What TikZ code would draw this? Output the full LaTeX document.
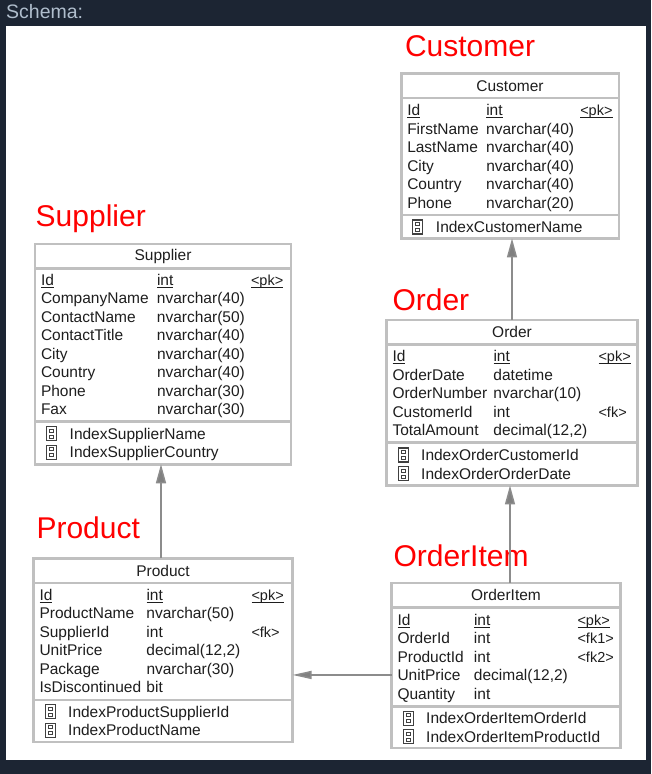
\documentclass[tikz,border=0pt]{standalone}
\usepackage{fontspec}
\setmainfont{Liberation Sans}
\usepackage{array}
\usepackage{tikz}
\usetikzlibrary{
  arrows.meta,
  positioning, calc
}
\definecolor{pagedark}{RGB}{28,37,51}
\definecolor{headtext}{RGB}{176,190,205}
\definecolor{tableline}{RGB}{192,192,192}
\definecolor{fkline}{RGB}{140,140,140}
\definecolor{fktip}{RGB}{128,128,128}
\definecolor{tabletext}{RGB}{30,30,30}
\tikzset{
  basebox/.style={rectangle,draw=tableline,line width=2.5pt,fill=white,inner sep=0pt,outer sep=0pt,
    text=tabletext,font=\fontsize{15.5}{18.5}\selectfont},
  titlenode/.style={basebox,align=center,minimum width=#1,minimum height=24.5pt},
  bodynode/.style={basebox,align=left,text width=#1},
  labelnode/.style={inner sep=0pt,outer sep=0pt,text depth=0pt,text=red,font=\fontsize{30}{30}\selectfont},
  fkarr/.style={-{Triangle[length=19pt,width=10pt,fill=fktip]},line width=1.5pt,color=fkline},
  hfkarr/.style={-{Triangle[length=19pt,width=8pt,fill=fktip]},line width=1.5pt,color=fkline}
}
\newcommand{\idxicon}{\tikz[baseline=1.5pt]{
  \draw[line width=1.2pt,black!75] (0pt,0pt) rectangle (10pt,14pt);
  \draw[line width=0.9pt,black!75] (3pt,2.5pt) rectangle (7pt,5.5pt);
  \draw[line width=0.9pt,black!75] (3pt,8.5pt) rectangle (7pt,11.5pt);}}
\newcommand{\idxname}[1]{\idxicon\hspace{12.5pt}#1}
\newcommand{\pkfield}[1]{\underline{\smash{#1}}}
\newenvironment{fieldtab}[2]{\hspace{6pt}\begin{tabular}{@{}p{#1}@{}p{#2}@{}>{\fontsize{14.5}{18.5}\selectfont}l@{}}\rule{0pt}{16.5pt}\ignorespaces}{\end{tabular}}
\newenvironment{idxtab}{\hspace{11pt}\begin{tabular}{@{}l@{}}\rule{0pt}{17.2pt}\ignorespaces}{\end{tabular}}

\begin{document}
\begin{tikzpicture}[x=1pt,y=-1pt]
  \useasboundingbox (0,0) rectangle (651,774);
  %% Page background
  \fill[pagedark] (0,0) rectangle (651,774);
  \fill[white] (6,26) rectangle (646,760);
  \node[anchor=base west,inner sep=0pt,text=headtext,font=\fontsize{19.5}{20}\selectfont] (schema) at (6,18) {Schema:};

  %% Customer table
  \node[titlenode=217.5pt] (custtitle) at (510,85.7) {Customer};
  \node[bodynode=217.5pt,minimum height=117pt,below=0pt of custtitle] (custbody)
    {\begin{fieldtab}{79pt}{94pt}
      \pkfield{Id} & \pkfield{int} & \pkfield{<pk>}\\
      FirstName & nvarchar(40) & \\
      LastName & nvarchar(40) & \\
      City & nvarchar(40) & \\
      Country & nvarchar(40) & \\
      Phone & nvarchar(20) &
    \end{fieldtab}};
  \node[bodynode=217.5pt,minimum height=23.5pt,below=0pt of custbody] (custidx)
    {\begin{idxtab}\idxname{IndexCustomerName}\end{idxtab}};
  \node[labelnode,above right=16.5pt and 3.8pt of custtitle.north west] (custlabel) {Customer};

  %% Order table
  \node[titlenode=251pt,below=81.5pt of custidx,xshift=2pt] (ordtitle) {Order};
  \node[bodynode=251pt,minimum height=98pt,below=0pt of ordtitle] (ordbody)
    {\begin{fieldtab}{101pt}{105pt}
      \pkfield{Id} & \pkfield{int} & \pkfield{<pk>}\\
      OrderDate & datetime & \\
      OrderNumber & nvarchar(10) & \\
      CustomerId & int & <fk>\\
      TotalAmount & decimal(12,2) &
    \end{fieldtab}};
  \node[bodynode=251pt,minimum height=43pt,below=0pt of ordbody] (ordidx)
    {\begin{idxtab}
      \idxname{IndexOrderCustomerId}\\
      \idxname{IndexOrderOrderDate}
    \end{idxtab}};
  \node[labelnode,above right=9.5pt and 6pt of ordtitle.north west] (ordlabel) {Order};

  %% OrderItem table
  \node[titlenode=229pt,below=97.5pt of ordidx,xshift=-6pt] (itemtitle) {OrderItem};
  \node[bodynode=229pt,minimum height=99pt,below=0pt of itemtitle] (itembody)
    {\begin{fieldtab}{76.5pt}{103.5pt}
      \pkfield{Id} & \pkfield{int} & \pkfield{<pk>}\\
      OrderId & int & <fk1>\\
      ProductId & int & <fk2>\\
      UnitPrice & decimal(12,2) & \\
      Quantity & int &
    \end{fieldtab}};
  \node[bodynode=229pt,minimum height=41pt,below=0pt of itembody] (itemidx)
    {\begin{idxtab}
      \idxname{IndexOrderItemOrderId}\\
      \idxname{IndexOrderItemProductId}
    \end{idxtab}};
  \node[labelnode,above right=16.5pt and 2pt of itemtitle.north west] (itemlabel) {OrderItem};

  %% Supplier table
  \node[titlenode=256pt] (suptitle) at (163,256) {Supplier};
  \node[bodynode=256pt,minimum height=153pt,below=0pt of suptitle] (supbody)
    {\begin{fieldtab}{116pt}{94pt}
      \pkfield{Id} & \pkfield{int} & \pkfield{<pk>}\\
      CompanyName & nvarchar(40) & \\
      ContactName & nvarchar(50) & \\
      ContactTitle & nvarchar(40) & \\
      City & nvarchar(40) & \\
      Country & nvarchar(40) & \\
      Phone & nvarchar(30) & \\
      Fax & nvarchar(30) &
    \end{fieldtab}};
  \node[bodynode=256pt,minimum height=43pt,below=0pt of supbody] (supidx)
    {\begin{idxtab}
      \idxname{IndexSupplierName}\\
      \idxname{IndexSupplierCountry}
    \end{idxtab}};
  \node[labelnode,above right=16.8pt and 0.7pt of suptitle.north west] (suplabel) {Supplier};

  %% Product table
  \node[titlenode=259pt,below=94pt of supidx] (prodtitle) {Product};
  \node[bodynode=259pt,minimum height=117pt,below=0pt of prodtitle] (prodbody)
    {\begin{fieldtab}{107pt}{105pt}
      \pkfield{Id} & \pkfield{int} & \pkfield{<pk>}\\
      ProductName & nvarchar(50) & \\
      SupplierId & int & <fk>\\
      UnitPrice & decimal(12,2) & \\
      Package & nvarchar(30) & \\
      IsDiscontinued & bit &
    \end{fieldtab}};
  \node[bodynode=259pt,minimum height=42pt,below=0pt of prodbody] (prodidx)
    {\begin{idxtab}
      \idxname{IndexProductSupplierId}\\
      \idxname{IndexProductName}
    \end{idxtab}};
  \node[labelnode,above right=20pt and 3pt of prodtitle.north west] (prodlabel) {Product};

  %% Foreign keys
  \coordinate (custfk) at (ordtitle.north);
  \coordinate (ordfk) at ($(itemtitle.north)+(4,0)$);
  \coordinate (supfk) at ($(prodtitle.north)+(-2,0)$);
  \coordinate (prodfk) at ($(itembody.west)+(0,18)$);
  \draw[fkarr] (custfk) -- (custfk |- custidx.south);
  \draw[fkarr] (ordfk) -- (ordfk |- ordidx.south);
  \draw[fkarr] (supfk) -- (supfk |- supidx.south);
  \draw[hfkarr] (prodfk) -- (prodfk -| prodbody.east);
\end{tikzpicture}
\end{document}
